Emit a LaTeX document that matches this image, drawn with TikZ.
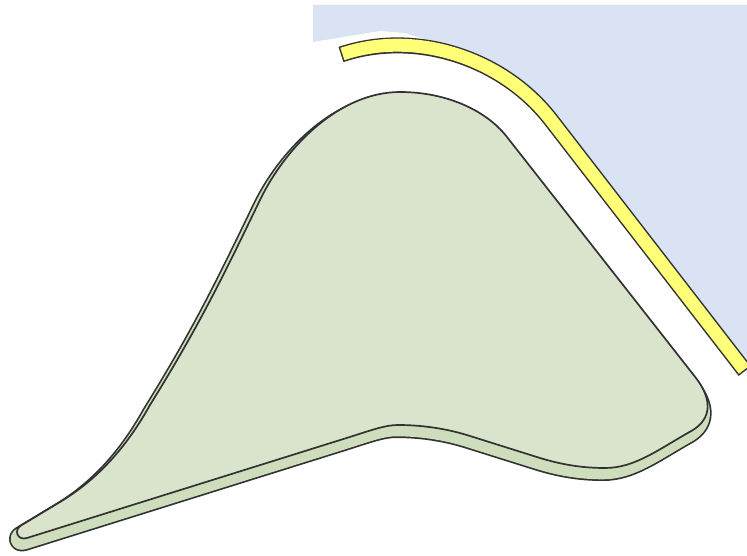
\documentclass[tikz,border=0pt]{standalone}
\definecolor{facegreen}{RGB}{218,227,204}
\definecolor{rimgreen}{RGB}{206,222,188}
\definecolor{paleblue}{RGB}{218,227,243}
\definecolor{lemon}{RGB}{255,255,120}
\definecolor{edgegrey}{RGB}{50,50,50}
\newcommand\greenoutline{(400,92) .. controls (445,92) and (485.5,109.4) .. (507,137)
  -- (696,378)
  .. controls (712,399) and (712,418) .. (693,430)
  .. controls (658,449.6) and (635,468) .. (605,468)
  .. controls (580,468) and (560,464) .. (540,458)
  -- (470,436)
  .. controls (445,428) and (420,425) .. (398,425)
  .. controls (385,425) and (372,430) .. (345,438.5)
  -- (27,538)
  .. controls (17.5,541) and (13.3,530) .. (21,525.5)
  -- (60,502)
  .. controls (95,481) and (125,450) .. (150,405)
  .. controls (197.4,328.5) and (221,281) .. (260,200)
  .. controls (286,146) and (340,92) .. (400,92) -- cycle}
\newcommand\bandpath{(341,54.5) .. controls (415,29.5) and (502.7,57.5) .. (551,120) -- (745,371)}
\tikzset{
  faceshape/.style={fill=facegreen, draw=edgegrey, line width=1.7pt, line join=round},
  rimouter/.style={draw=edgegrey, line width=12pt, line join=round},
  riminner/.style={draw=rimgreen, fill=rimgreen, line width=8.6pt, line join=round},
  bandouter/.style={draw=edgegrey, line width=16pt},
  bandinner/.style={draw=lemon, line width=13pt, shorten <=1.5pt, shorten >=1.5pt},
}
\begin{document}
\begin{tikzpicture}[x=1pt,y=-1pt]
\useasboundingbox (0,0) rectangle (747,556);
% blue region
\begin{scope}
  \clip (313,5) -- (760,5) -- (760,400) -- (520,160) -- (470,80) -- (450,47) -- (405,33) -- (380,31) -- (313,42) -- cycle;
  \fill[paleblue] (313,5) -- (760,5) -- (760,380) -- (745,371) -- (551,120) .. controls (502.7,57.5) and (415,29.5) .. (341,54.5) -- (313,54.5) -- cycle;
\end{scope}
% yellow band
\path[bandouter] \bandpath;
\path[bandinner] \bandpath;
% green slab: rim (back) and face (front)
\begin{scope}[shift={(-2,7)}]
  \path[rimouter] \greenoutline;
  \path[riminner] \greenoutline;
\end{scope}
\path[faceshape] \greenoutline;
\end{tikzpicture}
\end{document}
